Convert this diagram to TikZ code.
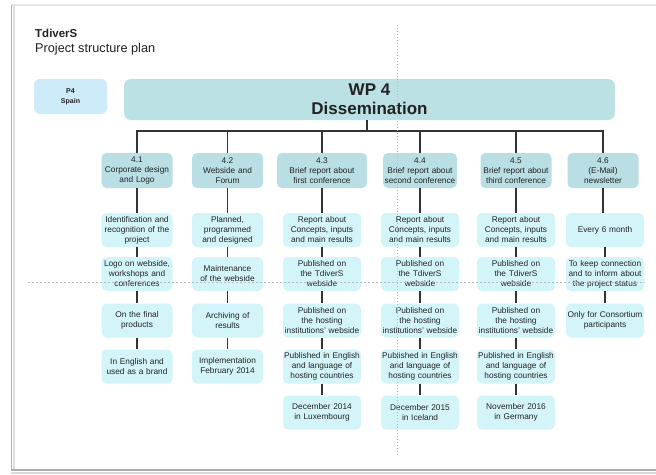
\documentclass[tikz,border=0pt]{standalone}
\usepackage{fontspec}
\setmainfont{Liberation Sans}
\definecolor{hdrc}{HTML}{B9DEE3}
\definecolor{subc}{HTML}{D3F5FA}
\definecolor{p4c}{HTML}{CDEBF8}
\definecolor{wpc}{HTML}{BCE1E4}
\definecolor{linec}{HTML}{333333}
\definecolor{txtc}{HTML}{222222}
\begin{document}
\begin{tikzpicture}[x=1pt,y=-1pt,
  hdr/.style={fill=hdrc, rounded corners=5pt, minimum height=35pt, inner sep=1pt, align=center, font=\fontsize{8.3}{10}\selectfont, text=txtc},
  sub/.style={fill=subc, rounded corners=5pt, minimum height=34pt, inner sep=1pt, align=center, font=\fontsize{8.3}{10}\selectfont, text=txtc},
  wA/.style={minimum width=71pt, text width=69pt},
  wB/.style={minimum width=78pt, text width=76pt},
  conn/.style={draw=linec, line width=1.5pt},
  guide/.style={draw=gray!55, line width=0.6pt, dash pattern=on 2pt off 2pt}]
\useasboundingbox (0,0) rectangle (656,474);
% page frame
\fill[white] (11,5) rectangle (656,470);
\draw[gray!20, line width=1.5pt] (11,5) -- (656,5);
\draw[gray!25, line width=2pt] (14,6) -- (14,469);
\draw[gray!60, line width=1.5pt] (11.5,5) -- (11.5,470);
\draw[gray!30, line width=2pt] (11,472.5) -- (656,472.5);
\draw[gray!65, line width=1.8pt] (11,470) -- (656,470);
% title
\node[anchor=base west, inner sep=0pt, font=\fontsize{11.5}{13}\selectfont\bfseries, text=txtc] (t1) at (35,37) {TdiverS};
\node[anchor=base west, inner sep=0pt, font=\fontsize{12.7}{14}\selectfont, text=txtc] (t2) at (35,52) {Project structure plan};
% top boxes
\node[fill=p4c, rounded corners=6pt, minimum width=73pt, minimum height=35pt, align=center, font=\fontsize{7}{10}\selectfont\bfseries, text=txtc] (p4) at (70.5,96.5) {P4\\Spain};
\node[fill=wpc, rounded corners=7pt, minimum width=491pt, minimum height=41pt, inner sep=0pt, align=center, font=\fontsize{17}{19}\selectfont\bfseries, text=txtc] (wp) at (369.5,99.5) {WP 4\\Dissemination};
% headers
\node[hdr, wA] (h1) at (137,170.5) {4.1\\Corporate design\\and Logo};
\node[hdr, wA] (h2) at (227.5,170.5) {4.2\\Webside and\\Forum};
\node[hdr, minimum width=90pt, text width=86pt] (h3) at (322,170.5) {4.3\\Brief report about\\first conference};
\node[hdr, minimum width=74pt, text width=72pt] (h4) at (420,170.5) {4.4\\Brief report about\\second conference};
\node[hdr, minimum width=71pt, text width=69pt] (h5) at (516,170.5) {4.5\\Brief report about\\third conference};
\node[hdr, wA] (h6) at (603,170.5) {4.6\\(E-Mail)\\newsletter};
% column 1
\node[sub, wA] (a1) at (137,230) {Identification and\\recognition of the\\project};
\node[sub, wA] (a2) at (137,274) {Logo on webside,\\workshops and\\conferences};
\node[sub, wA] (a3) at (137,320.5) {On the final\\products};
\node[sub, wA] (a4) at (137,366.5) {In English and\\used as a brand};
% column 2
\node[sub, wA] (b1) at (227.5,230) {Planned,\\programmed\\and designed};
\node[sub, wA] (b2) at (227.5,274) {Maintenance\\of the webside};
\node[sub, wA] (b3) at (227.5,320.5) {Archiving of\\results};
\node[sub, wA] (b4) at (227.5,366.5) {Implementation\\February 2014};
% column 3
\node[sub, wB] (c1) at (322,230) {Report about\\Concepts, inputs\\and main results};
\node[sub, wB] (c2) at (322,274) {Published on\\the TdiverS\\webside};
\node[sub, wB] (c3) at (322,320.5) {Published on\\the hosting\\institutions' webside};
\node[sub, wB] (c4) at (322,366.5) {Published in English\\and language of\\hosting countries};
\node[sub, wB] (c5) at (322,412.5) {December 2014\\in Luxembourg};
% column 4
\node[sub, wB] (d1) at (420,230) {Report about\\Concepts, inputs\\and main results};
\node[sub, wB] (d2) at (420,274) {Published on\\the TdiverS\\webside};
\node[sub, wB] (d3) at (420,320.5) {Published on\\the hosting\\institutions' webside};
\node[sub, wB] (d4) at (420,366.5) {Published in English\\and language of\\hosting countries};
\node[sub, wB] (d5) at (420,412.5) {December 2015\\in Iceland};
% column 5
\node[sub, wB] (e1) at (516,230) {Report about\\Concepts, inputs\\and main results};
\node[sub, wB] (e2) at (516,274) {Published on\\the TdiverS\\webside};
\node[sub, wB] (e3) at (516,320.5) {Published on\\the hosting\\institutions' webside};
\node[sub, wB] (e4) at (516,366.5) {Published in English\\and language of\\hosting countries};
\node[sub, wB] (e5) at (516,412.5) {November 2016\\in Germany};
% column 6
\node[sub, wB] (f1) at (605,230) {Every 6 month};
\node[sub, wB] (f2) at (605,274) {To keep connection\\and to inform about\\the project status};
\node[sub, wB] (f3) at (605,320.5) {Only for Consortium\\participants};
% bus
\coordinate (bus) at (0,131);
\draw[conn] (h1.north) -- (h1.north |- bus) -- (h6.north |- bus) -- (h6.north);
\draw[conn] ([xshift=-2.5pt]wp.south) -- ([xshift=-2.5pt]wp.south |- bus);
\foreach \h in {h2,h3,h4,h5} \draw[conn] (\h.north) -- (\h.north |- bus);
% column connectors
\draw[conn] (h1) -- (a1) -- (a2) -- (a3) -- (a4);
\draw[conn] (h2) -- (b1) -- (b2) -- (b3) -- (b4);
\draw[conn] (h3) -- (c1) -- (c2) -- (c3) -- (c4) -- (c5);
\draw[conn] (h4) -- (d1) -- (d2) -- (d3) -- (d4) -- (d5);
\draw[conn] (h5) -- (e1) -- (e2) -- (e3) -- (e4) -- (e5);
\draw[conn] (h6.south) -- (h6.south |- f1.north);
\draw[conn] (f1) -- (f2) -- (f3);
% guide lines
\draw[guide] (28,282) -- (645,282);
\draw[guide, dash pattern=on 1pt off 2pt] (397.5,25) -- (397.5,455);
\end{tikzpicture}
\end{document}
